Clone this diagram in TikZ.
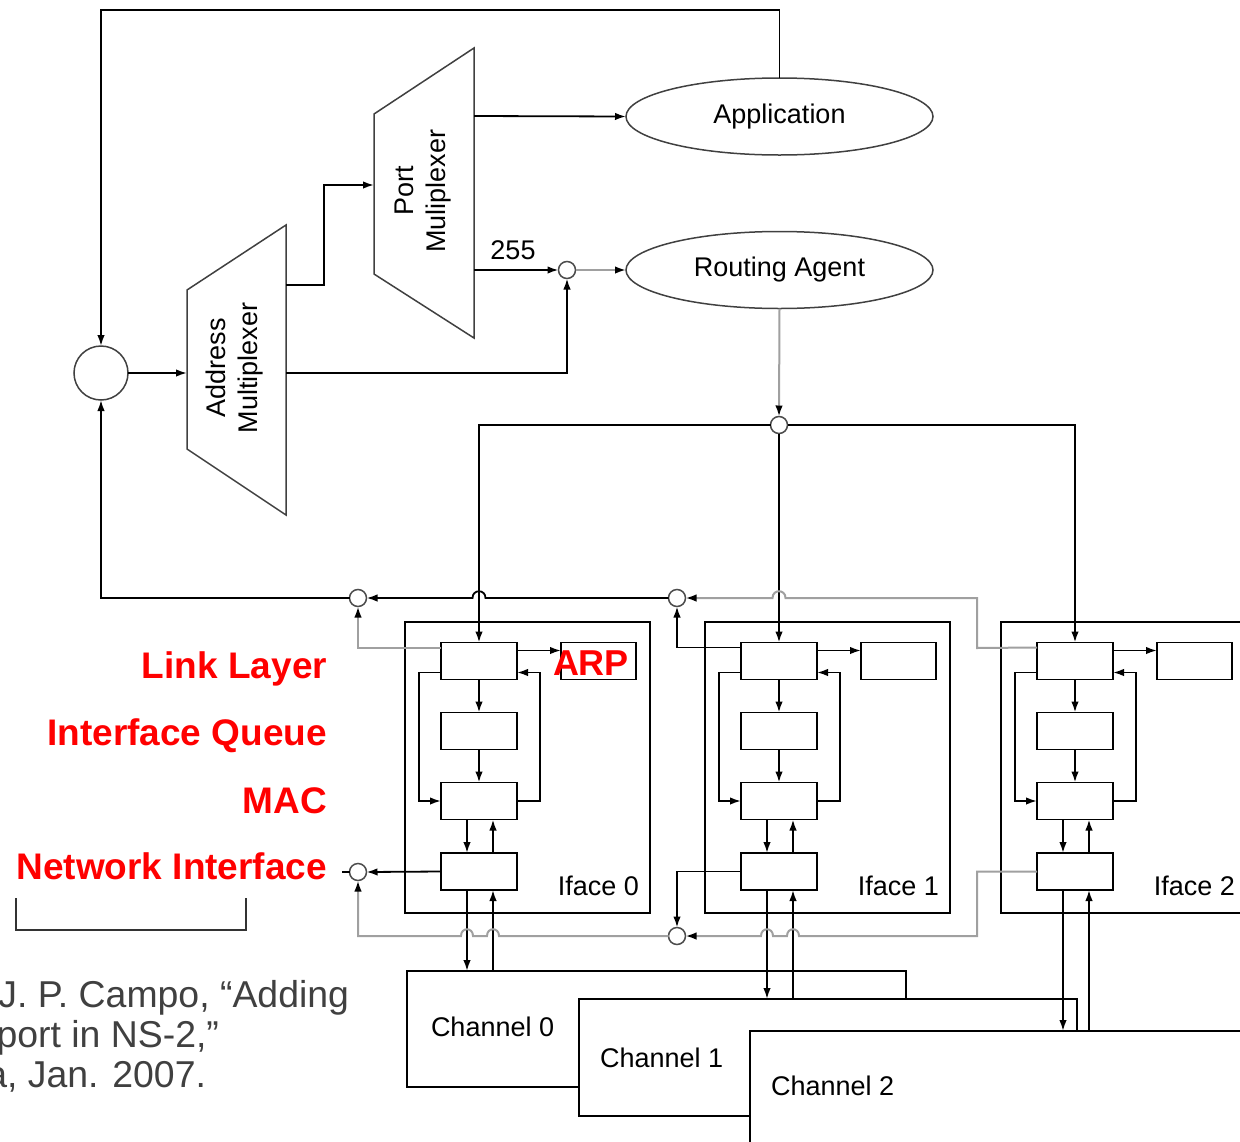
\documentclass[tikz,border=0pt]{standalone}
\usepackage{fontspec}
\setmainfont{Liberation Sans}
\usetikzlibrary{arrows.meta,shapes.geometric,calc}
\definecolor{linegray}{RGB}{160,160,160}
\definecolor{citegray}{RGB}{64,64,64}
\begin{document}
\begin{tikzpicture}[x=1pt,y=-1pt,line width=1.8pt,
  every node/.style={inner sep=0pt,outer sep=0pt},
  lab/.style={font=\fontsize{27}{32}\selectfont},
  redlab/.style={font=\bfseries\fontsize{37}{44}\selectfont,text=red},
  cite/.style={font=\fontsize{37.4}{41}\selectfont,text=citegray},
  blk/.style={draw=black,fill=white,minimum width=76pt,minimum height=37pt},
  ell/.style={ellipse,draw=black!75,line width=1.5pt,minimum width=307pt,minimum height=77pt,lab},
  sc/.style={circle,draw=black!70,fill=white,line width=1.5pt,minimum size=17pt},
  arr/.style={-{Latex[length=11pt,width=7.5pt,color=black]}},
  trap/.style={draw=black!75,line width=1.5pt},
  gline/.style={draw=linegray,line width=2pt}]
\useasboundingbox (0,0) rectangle (1240,1141);
\clip (0,0) rectangle (1240,1141);

% upper part
\node[circle,draw=black!75,line width=1.5pt,minimum size=54pt,fill=white] (big) at (101,373) {};
\draw[trap] (187,290) -- (286,225) -- (286,515) -- (187,449) -- cycle;
\node[lab,rotate=90,align=center] (amuxt) at (235,368) {Address\\Multiplexer};
\draw[trap] (374,114) -- (474,48) -- (474,338) -- (374,274) -- cycle;
\node[lab,rotate=90,align=center] (pmuxt) at (423,191) {Port\\Muliplexer};
\coordinate (amuxin) at (187,373);
\coordinate (amuxout1) at (286,285);
\coordinate (amuxout2) at (286,373);
\coordinate (pmuxin) at (374,185);
\coordinate (pmuxout1) at (474,116);
\coordinate (pmuxout2) at (474,270);
\coordinate (tl) at (101,10);

\node[ell] (app) at (779.5,116.5) {Application};
\node[ell] (ra) at (779.5,270) {Routing Agent};
\node[sc] (s) at (567,270) {};
\node[lab] (n255) at (513,250) {255};
\node[sc] (j) at (779,425) {};

\draw[arr] (app.north) |- (tl) -- (big.north);
\draw[arr] (big.east) -- (amuxin);
\draw[arr] (amuxout1) -- ++(38,0) |- (pmuxin);
\draw[arr] (pmuxout1) -- (app.west);
\draw[arr] (pmuxout2) -- (s.west);
\draw[arr] (amuxout2) -| (s.south);
\draw[arr,gline] (s.east) -- (ra.west);
\draw[arr,gline] (ra.south) -- (j.north);

% interfaces
\foreach \i/\L in {0/441,1/741,2/1037} {
  \node[draw,minimum width=245pt,minimum height=291pt,anchor=north west] (if\i) at (\L-36,622) {};
  \node[blk] (ll\i) at (\L+38,661) {};
  \node[blk] (iq\i) at (\L+38,731) {};
  \node[blk] (mac\i) at (\L+38,801) {};
  \node[blk] (ni\i) at (\L+38,871.5) {};
  \node[blk,minimum width=75pt] (arp\i) at (\L+157.5,661) {};
  \node[lab,anchor=base east] (ifl\i) at (\L+198,895) {Iface \i};
  \draw[arr] ($(ll\i.north east)+(0,8)$) -- ($(arp\i.north west)+(0,8)$);
  \draw[arr] (ll\i.south) -- (iq\i.north);
  \draw[arr] (iq\i.south) -- (mac\i.north);
  \draw[arr] ($(ll\i.south west)+(0,-7)$) -- ++(-22,0) |- (mac\i.west);
  \draw[arr] (mac\i.east) -- ++(23,0) |- ($(ll\i.south east)+(0,-7)$);
  \draw[arr] ($(mac\i.south west)+(26,0)$) -- ($(ni\i.north west)+(26,0)$);
  \draw[arr] ($(ni\i.north west)+(52,0)$) -- ($(mac\i.south west)+(52,0)$);
}

\draw[arr] (j.west) -| (ll0.north);
\draw[arr] (j.east) -| (ll2.north);
\draw[arr] (j.south) -- (ll1.north);

% channels
\node[draw,fill=white,anchor=north west,minimum width=499pt,minimum height=116pt] (ch0) at (407,971) {};
\node[draw,fill=white,anchor=north west,minimum width=498pt,minimum height=117pt] (ch1) at (579,999) {};
\node[draw,fill=white,anchor=north west,minimum width=520pt,minimum height=140pt] (ch2) at (750,1031) {};
\node[lab,anchor=base west] (chl0) at (431,1036) {Channel 0};
\node[lab,anchor=base west] (chl1) at (600,1067) {Channel 1};
\node[lab,anchor=base west] (chl2) at (771,1095) {Channel 2};
\foreach \i in {0,1,2} {
  \coordinate (dn\i) at ($(ni\i.south west)+(26,0)$);
  \coordinate (up\i) at ($(ni\i.south west)+(52,0)$);
  \draw[arr] (dn\i) -- (dn\i |- ch\i.north);
  \draw[arr] (up\i |- ch\i.north) -- (up\i);
}

% merge circles
\node[sc] (ca) at (358,598) {};
\node[sc] (cb) at (677,598) {};
\node[sc] (cc) at (358,872) {};
\node[sc] (cd) at (677,936) {};

\draw[arr] (ca.west) -| (big.south);
\draw[arr] (cb.west) -- (485.5,598) .. controls (485.5,589) and (472.5,589) .. (472.5,598) -- (ca.east);
\draw[arr,gline] ($(ll0.north west)+(0,5)$) -| (ca.south);
\draw[arr] ($(ll1.north west)+(0,5)$) -| (cb.south);
\draw[arr,gline] ($(ll2.north west)+(0,5)$) -- (977,648) -- (977,598) -- (785.5,598) .. controls (785.5,589) and (772.5,589) .. (772.5,598) -- (cb.east);

\draw[arr] (ni0.west) -- (cc.east);
\draw (cc.west) -- ++(-8,0);
\draw[arr,gline] (cd.west) -- (499,936) .. controls (499,927) and (487,927) .. (487,936) -- (473,936) .. controls (473,927) and (461,927) .. (461,936) -| (cc.south);
\draw[arr] (ni1.west) -| (cd.north);
\draw[arr,gline] (ni2.west) -- (977,871.5) -- (977,936) -- (799,936) .. controls (799,927) and (787,927) .. (787,936) -- (773,936) .. controls (773,927) and (761,927) .. (761,936) -- (cd.east);

% red labels
\node[redlab,anchor=base east] (rl1) at (327,678) {Link Layer};
\node[redlab,anchor=base east] (rl2) at (327,745) {Interface Queue};
\node[redlab,anchor=base east] (rl3) at (327,813) {MAC};
\node[redlab,anchor=base east] (rl4) at (327,879) {Network Interface};
\node[redlab,anchor=base west,font=\bfseries\fontsize{36}{44}\selectfont] (arplab) at (553,675) {ARP};

% bracket
\draw[draw=black!80] (16,898) -- (16,930) -- (246,930) -- (246,898);

% citation
\node[cite,anchor=base east] (c1) at (349,1007) {J. P. Campo, “Adding};
\node[cite,anchor=base east] (c2) at (219,1047) {port in NS-2,”};
\node[cite,anchor=base east] (c3) at (206,1087) {a, Jan. 2007.};
\end{tikzpicture}
\end{document}
